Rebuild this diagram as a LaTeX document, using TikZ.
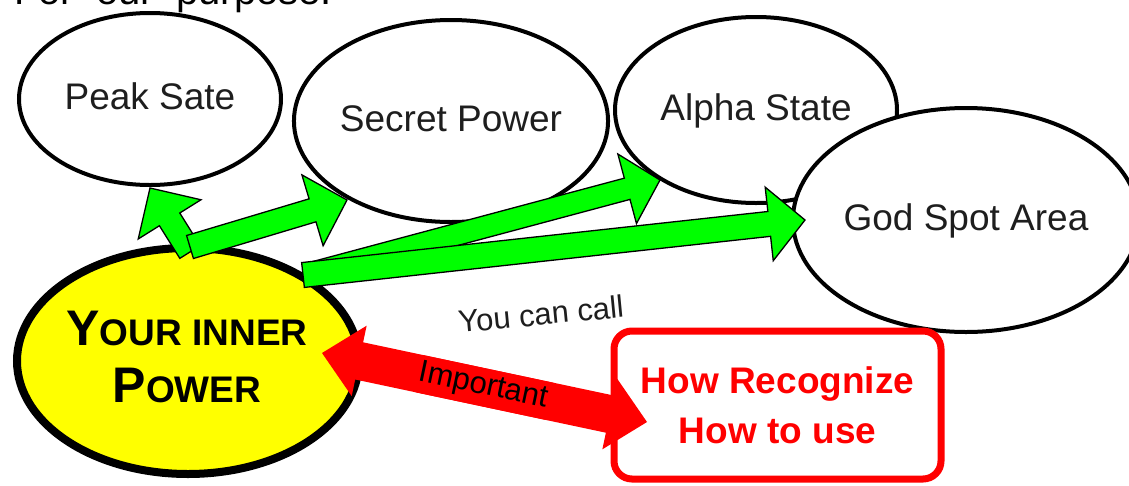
\documentclass[tikz,border=0pt]{standalone}
\usepackage{fontspec}
\setmainfont{Liberation Sans}
\usetikzlibrary{calc,shapes.geometric}
\definecolor{arrowgreen}{RGB}{0,255,0}
\definecolor{boxred}{RGB}{255,0,0}
\definecolor{inneryellow}{RGB}{255,255,0}
\definecolor{labelgray}{RGB}{30,30,30}
% #1 style, #2 tail, #3 tip, #4 half shaft width, #5 half head width, #6 head length
\newcommand\fatarrow[6]{%
  \coordinate (fa-hb) at ($(#3)!#6!(#2)$);
  \path[#1] ($(#2)!#4!90:(#3)$) -- ($(fa-hb)!#4!90:(#3)$) -- ($(fa-hb)!#5!90:(#3)$) -- (#3)
    -- ($(fa-hb)!#5!-90:(#3)$) -- ($(fa-hb)!#4!-90:(#3)$) -- ($(#2)!#4!-90:(#3)$) -- cycle;}
\begin{document}
\begin{tikzpicture}[x=1pt,y=-1pt,
  bubble/.style={ellipse, draw=black, line width=4pt, fill=white, text=labelgray,
    font=\fontsize{37}{44}\selectfont, text height=28pt, text depth=8pt, inner sep=0pt},
  greenarrow/.style={fill=arrowgreen, draw=black, line width=1.3pt, line join=miter},
  redarrow/.style={fill=boxred},
  label/.style={text=labelgray, inner sep=0pt, anchor=base, font=\fontsize{31}{37}\selectfont}]
\path[use as bounding box, clip] (0,0) rectangle (1129,485);
\fill[white] (0,0) rectangle (1129,485);

\node (heading) [anchor=base west, inner sep=0pt, text=black, font=\fontsize{40}{48}\selectfont] at (14,4) {For\ \ our\ \ purpose:};

\node (peak)   [bubble, minimum width=262pt, minimum height=172pt] at (150,99)  {Peak Sate};
\node (secret) [bubble, minimum width=306pt, minimum height=202pt] at (451,121) {Secret Power};
\node (alpha)  [bubble, minimum width=282pt, minimum height=186pt] at (756,110) {Alpha State};
\node (god)    [bubble, minimum width=320pt, minimum height=224pt] at (966,220) {God Spot Area};

\node (inner) [ellipse, draw=black, line width=8pt, fill=inneryellow,
  minimum width=342pt, minimum height=226pt] at (188,361) {};
\node (innertext) [font=\bfseries\fontsize{37}{57}\selectfont, align=center, inner sep=0pt]
  at (187,356.5) {{\fontsize{50}{57}\selectfont Y}OUR INNER\\{\fontsize{50}{57}\selectfont P}OWER};

\node (howbox) [rectangle, rounded corners=18pt, draw=boxred, line width=7pt, fill=white,
  minimum width=327pt, minimum height=148pt, text=boxred, inner sep=0pt,
  font=\bfseries\fontsize{37}{50}\selectfont, align=center] at (777.5,405) {How Recognize\\How to use};

% green arrows
\coordinate (g1tail) at (190,252); \coordinate (g1tip) at (150,188);
\coordinate (g2tail) at (190,247); \coordinate (g2tip) at (347,200);
\coordinate (g3tail) at (305,275); \coordinate (g3tip) at (660,180);
\coordinate (g4tail) at (303,275); \coordinate (g4tip) at (805,220);
\fatarrow{greenarrow}{g1tail}{g1tip}{12pt}{37pt}{37pt}
\fatarrow{greenarrow}{g2tail}{g2tip}{12pt}{37pt}{36pt}
\fatarrow{greenarrow}{g3tail}{g3tip}{11pt}{36pt}{34pt}
\fatarrow{greenarrow}{g4tail}{g4tip}{12.5pt}{37pt}{36pt}

% red double arrow
\coordinate (rleft) at (322,353); \coordinate (rright) at (647,422);
\coordinate (rma) at ($(rleft)!0.3!(rright)$);
\coordinate (rmb) at ($(rleft)!0.7!(rright)$);
\fatarrow{redarrow}{rma}{rright}{19pt}{36pt}{38pt}
\fatarrow{redarrow}{rmb}{rleft}{19pt}{36pt}{38pt}

\node (youcancall) [label, rotate=5.5] at (542,325) {You can call};
\node (important) [label, text=black, rotate=-12] at (482,394) {Important};
\end{tikzpicture}
\end{document}
